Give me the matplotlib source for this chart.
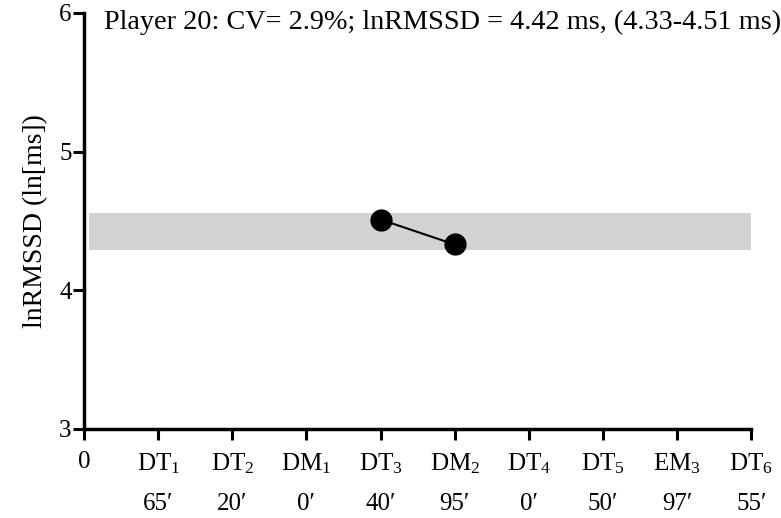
import numpy as np
import matplotlib.pyplot as plt

plt.rcParams['font.family'] = ['Liberation Serif', 'DejaVu Serif']
plt.rcParams['mathtext.fontset'] = 'custom'
plt.rcParams['mathtext.rm'] = 'Liberation Serif'
plt.rcParams['mathtext.it'] = 'Liberation Serif:italic'

# sessions along the x axis and training minutes
sessions = ['0', 'DT$_1$', 'DT$_2$', 'DM$_1$', 'DT$_3$', 'DM$_2$', 'DT$_4$', 'DT$_5$', 'EM$_3$', 'DT$_6$']
minutes = ['', '65′', '20′', '0′', '40′', '95′', '0′', '50′', '97′', '55′']

# measured lnRMSSD for player 20
point_x = [4, 5]
point_y = [4.51, 4.33]

# smallest worthwhile change band
band_lo = 4.29
band_hi = 4.56

fig = plt.figure(figsize=(7.81, 5.18), dpi=100)
ax = fig.add_axes([0.1076, 0.172, 0.8544, 0.803])

ax.axhspan(band_lo, band_hi, xmin=0.007, xmax=1.0, color='#d3d3d3', lw=0, zorder=1)
ax.plot(point_x, point_y, color='black', lw=1.5, marker='o', ms=15, zorder=3)

ax.set_xlim(0, 9)
ax.set_ylim(3, 6)
ax.set_yticks([3, 4, 5, 6])
xt = np.arange(len(sessions))
ax.set_xticks(xt)
ax.set_xticklabels([s if m == '' else s + '\n' + m for s, m in zip(sessions, minutes)],
                   fontsize=18, linespacing=2.0, va='top')
ax.tick_params(axis='y', labelsize=18, width=2.2, length=8, pad=1)
ax.tick_params(axis='x', width=2.2, length=8, pad=8)

for side in ['top', 'right']:
    ax.spines[side].set_visible(False)
for side in ['left', 'bottom']:
    ax.spines[side].set_linewidth(2.5)

ax.set_ylabel('lnRMSSD (ln[ms])', fontsize=20, labelpad=8)
ax.text(0.27, 5.935, 'Player 20: CV= 2.9%; lnRMSSD = 4.42 ms, (4.33-4.51 ms)',
        fontsize=20.3, va='center', ha='left')

fig.savefig('out.png', dpi=100)
